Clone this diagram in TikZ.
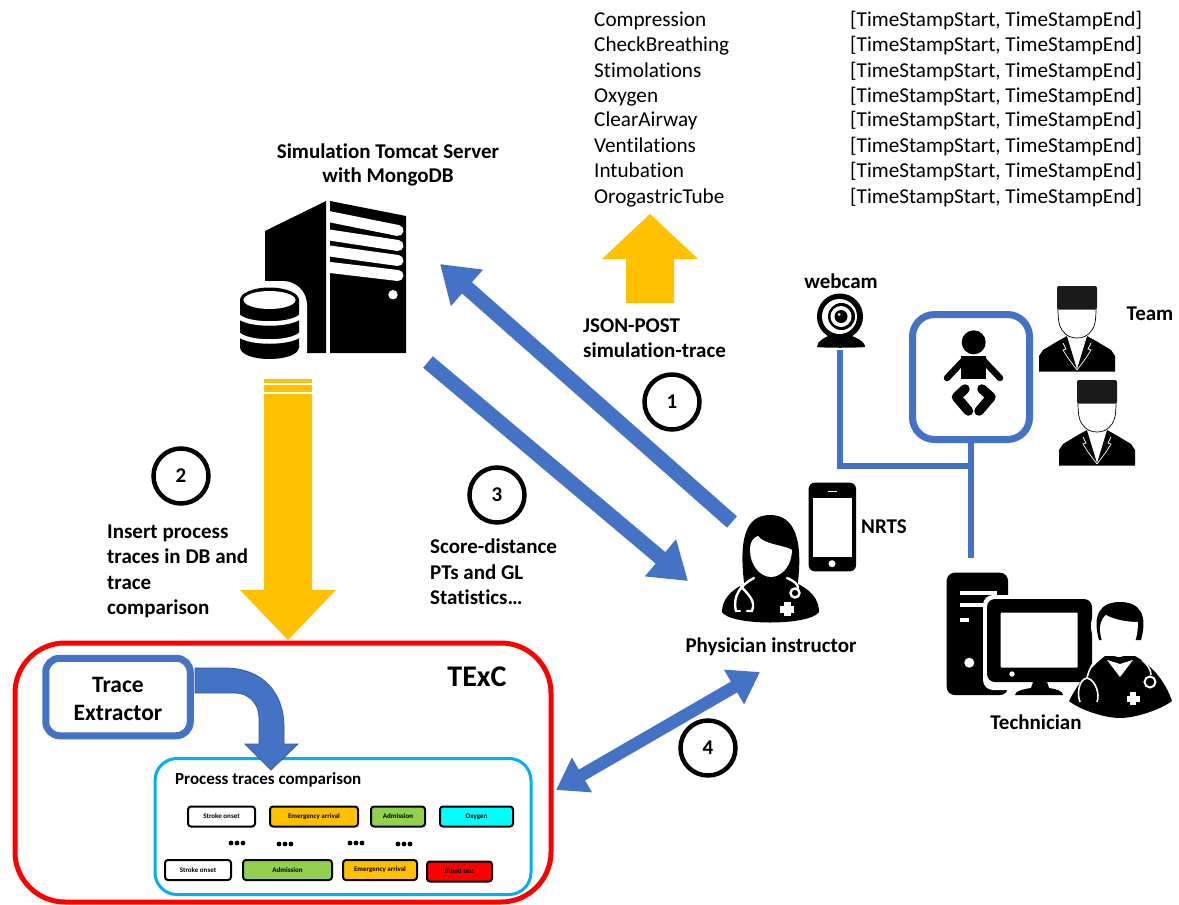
\documentclass[tikz,border=0pt]{standalone}
\usepackage{fontspec}
\setmainfont[RawFeature={-liga;-clig;-calt}]{Carlito}
\usetikzlibrary{arrows.meta}
\definecolor{pblue}{HTML}{4472C4}
\definecolor{pyellow}{HTML}{FFC000}
\definecolor{pcyan}{HTML}{00B0F0}
\definecolor{pgreen}{HTML}{92D050}
\definecolor{paqua}{HTML}{00FFFF}
\definecolor{pred}{HTML}{FF0000}
\definecolor{capblack}{HTML}{1A1A1A}
\tikzset{
  lbl/.style={font=\bfseries\fontsize{21}{25.4}\selectfont,align=left,inner sep=0pt},
  clbl/.style={font=\bfseries\fontsize{21}{24}\selectfont,align=center,inner sep=0pt},
  lst/.style={font=\fontsize{21.2}{24}\selectfont,anchor=base west,inner sep=0pt},
  num/.style={circle,draw=black,line width=4.5pt,fill=white,minimum size=55pt,inner sep=0pt,font=\bfseries\fontsize{21}{22}\selectfont},
  fatblue/.style={draw=pblue,line width=15pt},
  fathead/.style={-{Triangle[width=46pt,length=36pt]}},
  fatboth/.style={{Triangle[width=38pt,length=30pt]}-{Triangle[width=38pt,length=30pt]}},
  wire/.style={draw=pblue,line width=6pt},
  ev/.style={draw=black,line width=2pt,rounded corners=3pt,inner sep=0pt,minimum height=20pt,font=\bfseries\fontsize{7}{8}\selectfont},
  dotk/.style={fill=black,draw=none},
  whiteln/.style={draw=white,line cap=round},
  teamman/.pic={
    \fill[black] (-18,85.7) -- (-18,70) -- (-14,64) -- (1,55) -- (10,50) -- (30,50) -- (39,55) -- (54,64) -- (58,70) -- (58,85.7) -- cycle;
    \fill[white] (10,50) -- (20,83) -- (30,50) -- cycle;
    \draw[white,line width=.7pt] (6,57) -- (9,63) -- (6,64) -- (11,72) -- (20,84);
    \draw[white,line width=.7pt] (34,57) -- (31,63) -- (34,64) -- (29,72) -- (20,84);
    \filldraw[fill=white,draw=black,line width=.7pt] (1,22) .. controls (1,34) and (2,40) .. (5,44) .. controls (9,50) and (14,52) .. (20,52) .. controls (26,52) and (31,50) .. (35,44) .. controls (38,40) and (39,34) .. (39,22) -- cycle;
    \fill[capblack,rounded corners=2pt] (0,0) rectangle (40,23.5);
  }
}
\begin{document}
\begin{tikzpicture}[x=1pt,y=-1pt]
\useasboundingbox (0,0) rectangle (1179,905);
% action list
\foreach \n/\t/\y in {a/Compression/26.5,b/CheckBreathing/51.5,c/Stimolations/77.5,d/Oxygen/102.5,e/ClearAirway/126.5,f/Ventilations/152.5,g/Intubation/177.5,h/OrogastricTube/203.5}{
  \node[lst] (act\n) at (594,\y) {\t};
  \node[lst] (time\n) at (850,\y) {[TimeStampStart, TimeStampEnd]};
}
% labels
\node[clbl] (srv) at (388,165) {Simulation Tomcat Server\\with MongoDB};
\node[lbl,anchor=north west] (json) at (583,318.5) {JSON-POST\\simulation-trace};
\node[lbl,anchor=north west] (ins) at (107,524.5) {Insert process\\traces in DB and\\trace\\comparison};
\node[lbl,anchor=north west] (sco) at (430,539) {Score-distance\\PTs and GL\\Statistics…};
\node[clbl] (webl) at (841,281) {webcam};
\node[clbl] (teaml) at (1150,314) {Team};
\node[clbl] (nrts) at (884,527) {NRTS};
\node[clbl] (phys) at (771,647) {Physician instructor};
% server icon
\fill[black] (326,201) -- (265,231) -- (265,353) -- (326,353) -- cycle;
\fill[black] (330,201) -- (406,216) -- (406,353) -- (330,353) -- cycle;
\begin{scope}
\clip (330,195) rectangle (410,360);
\begin{scope}[line width=11pt]
\draw[whiteln] (326,216) -- (398,230.5);
\draw[whiteln] (326,234.5) -- (398,245.5);
\draw[whiteln] (326,250.5) -- (398,260.5);
\draw[whiteln] (326,267) -- (398,275.5);
\end{scope}
\end{scope}
\fill[white] (393,294.7) circle (4.7);
\fill[white,rounded corners=24pt] (232,281) rectangle (307,375);
\fill[black] (240,300) -- (240,347) .. controls (240,363) and (299,363) .. (299,347) -- (299,300) -- cycle;
\fill[black] (269.5,300) ellipse (29.5 and 12.5);
\fill[white] (269.5,300) ellipse (26 and 9);
\draw[white,line width=4.5pt] (238,316) .. controls (248,326) and (291,326) .. (301,316);
\draw[white,line width=4.5pt] (238,334) .. controls (248,344) and (291,344) .. (301,334);
% yellow arrows
\fill[pyellow] (626,303) -- (626,259) -- (602,259) -- (650,214) -- (698,259) -- (674,259) -- (674,303) -- cycle;
\fill[pyellow] (264,378.5) rectangle (312,383);
\fill[pyellow] (264,385) rectangle (312,392);
\fill[pyellow] (264,394) -- (312,394) -- (312,590) -- (336,590) -- (288,640) -- (240,590) -- (264,590) -- cycle;
% numbered circles
\node[num] (n1) at (672,402) {1};
\node[num] (n2) at (181,476) {2};
\node[num] (n3) at (497,495) {3};
\node[num] (n4) at (708,748) {4};
% blue connectors
\coordinate (p1) at (732,522);
\coordinate (s1) at (440,264);
\coordinate (s3) at (428,362);
\coordinate (p3) at (688,581);
\coordinate (t4) at (556,790);
\coordinate (p4) at (760,672);
\draw[fatblue,fathead] (p1) -- (s1);
\draw[fatblue,fathead] (s3) -- (p3);
\draw[fatblue,line width=12.5pt,fatboth] (t4) -- (p4);
% webcam
\fill[black] (817,347) .. controls (817,341) and (825,337) .. (831,335) -- (849,335) .. controls (855,337) and (865,341) .. (865,347) .. controls (855,348) and (825,348) .. (817,347) -- cycle;
\fill[black] (840,316.5) circle (23);
\fill[white] (839.5,316.5) circle (17.5);
\fill[black] (841.5,316.5) circle (13.5);
\fill[white] (841,316.5) circle (10.5);
\fill[black] (841,316.5) circle (6.5);
\fill[white] (839,314.5) circle (1.5);
% baby box and wires
\node[draw=pblue,line width=7pt,rounded corners=22pt,minimum width=117pt,minimum height=125pt,inner sep=0pt] (baby) at (971,377) {};
\coordinate (camfoot) at (840,350);
\coordinate (wirec) at (840,466);
\coordinate (wirej) at (971,466);
\coordinate (techtop) at (971,558);
\draw[wire] (camfoot) -- (wirec) -- (wirej);
\draw[wire] (baby.south) -- (techtop);
% baby figure
\fill[black] (973.7,342.3) circle (12);
\fill[black] (961,356) rectangle (986,379.3);
\draw[black,line width=6.5pt,line cap=round] (964,360) -- (947,378);
\draw[black,line width=6.5pt,line cap=round] (983,360) -- (1000,378);
\draw[black,line width=9.5pt,line cap=round,line join=round] (965,389) -- (956.5,397) -- (968.5,411);
\draw[black,line width=9.5pt,line cap=round,line join=round] (982,389) -- (991,397) -- (979,411);
% team
\pic at (1057,286) {teamman};
\pic at (1077,380) {teamman};
% phone
\fill[black,rounded corners=6pt] (808.7,482.7) rectangle (856,571.3);
\fill[white] (813.3,497.7) rectangle (851.7,557.3);
\draw[white,line width=1.5pt] (828,491.3) -- (837,491.3);
\fill[white] (832,563.7) circle (3.5);
% physician
\fill[black] (745,590) .. controls (738,540) and (745,515) .. (770,515) .. controls (795,515) and (804,540) .. (797,590) -- cycle;
\fill[black] (722,612) .. controls (722,600) and (730,590) .. (748,582) -- (757,577) -- (785,577) -- (794,582) .. controls (812,590) and (819,600) .. (819,612) .. controls (810,626) and (730,626) .. (722,612) -- cycle;
\fill[white] (750,550) .. controls (750,540) and (755,537) .. (758,536) .. controls (765,545) and (785,545) .. (792,550) .. controls (792,565) and (782,577) .. (771,577) .. controls (760,577) and (750,565) .. (750,550) -- cycle;
\draw[white,line width=2.4pt,line cap=round] (754,578) .. controls (742,584) and (732,595) .. (736,611);
\draw[white,line width=2.4pt,line cap=round] (741,586) .. controls (748,595) and (756,600) .. (752,611) -- (747,611);
\draw[white,line width=2.4pt,line cap=round] (736,611) -- (740,611);
\draw[white,line width=2.4pt,line cap=round] (787,578) .. controls (794,581) and (798,584) .. (798,588);
\draw[white,line width=2.4pt] (795,593) circle (4.5);
\fill[white] (783.5,602) rectangle (790.5,616);
\fill[white] (780,605.5) rectangle (794,612.5);
% technician
\fill[black,rounded corners=8pt] (946.7,572.7) rectangle (1008,695);
\fill[white] (960,591) rectangle (997,595);
\fill[white] (960,603) rectangle (985,607);
\fill[white] (960,618) rectangle (969,622);
\fill[white] (969.3,662.7) circle (5);
\fill[white,rounded corners=10pt] (983,595) rectangle (1096,690);
\fill[black,rounded corners=8pt] (987,599) rectangle (1092,682);
\fill[white,rounded corners=1pt] (1000.7,612.7) rectangle (1077.7,667.7);
\fill[white] (1012,674) circle (2.7);
\fill[black] (1033,682) -- (1047,682) -- (1049,688) .. controls (1056,689) and (1063,691) .. (1063,695) -- (1015,695) .. controls (1015,691) and (1024,689) .. (1031,688) -- cycle;
\fill[white] (1065,718) .. controls (1068,695) and (1085,675) .. (1105,658) -- (1135,650) .. controls (1160,665) and (1176,690) .. (1176,718) -- cycle;
\fill[white] (1120,626) circle (29);
\fill[black] (1069,701) .. controls (1080,680) and (1090,668) .. (1105,656) -- (1135,656) .. controls (1150,664) and (1165,680) .. (1172,701) .. controls (1160,710) and (1135,718) .. (1120,718) .. controls (1105,718) and (1080,710) .. (1069,701) -- cycle;
\fill[black] (1099,640) .. controls (1092,615) and (1100,602) .. (1120,602) .. controls (1140,602) and (1148,615) .. (1141,640) -- cycle;
\fill[white] (1100,629) .. controls (1100,622) and (1103,617) .. (1106,615) .. controls (1115,620) and (1128,622) .. (1138,622) .. controls (1138,642) and (1130,657) .. (1119,657) .. controls (1108,657) and (1100,642) .. (1100,629) -- cycle;
\fill[white] (1107,660) -- (1120,677) -- (1133,660) -- (1120,664) -- cycle;
\draw[white,line width=1.6pt] (1094,662) .. controls (1090,668) and (1088,673) .. (1087,678) .. controls (1078,680) and (1077,695) .. (1080,702);
\draw[white,line width=1.6pt] (1087,678) .. controls (1096,680) and (1100,695) .. (1097,702);
\draw[white,line width=1.6pt] (1142,660) .. controls (1148,665) and (1151,670) .. (1151,675);
\draw[white,line width=2pt] (1150,682) circle (5.5);
\fill[white] (1130,692) rectangle (1136,705);
\fill[white] (1126.5,695.5) rectangle (1139.5,701.5);
\node[clbl] (tech) at (1036,722) {Technician};
% TExC
\node[draw=pred,line width=5pt,rounded corners=50pt,minimum width=536pt,minimum height=259pt,inner sep=0pt] (texc) at (283,772.5) {};
\node[font=\bfseries\fontsize{30}{34}\selectfont,inner sep=0pt] (texcl) at (477,677) {TExC};
\node[draw=pcyan,line width=3pt,rounded corners=22pt,minimum width=376pt,minimum height=136pt,inner sep=0pt] (cmp) at (343,826.5) {};
\node[draw=pblue,line width=7pt,rounded corners=14pt,minimum width=144.5pt,minimum height=77.5pt,inner sep=0pt,fill=white] (tex) at (118,697) {};
\node[inner sep=0pt,align=center,font=\bfseries\fontsize{23.5}{28}\selectfont] (texl) at (118,698.5) {Trace\\Extractor};
\node[font=\bfseries\fontsize{17}{20}\selectfont,anchor=west,inner sep=0pt] (cmpl) at (175,780) {Process traces comparison};
% curved arrow
\filldraw[fill=pblue,draw=pblue!75!black,line width=.7pt] (195,668) -- (225,668) .. controls (262,668) and (284,692) .. (284,727) -- (284,744) -- (298,744) -- (271,770) -- (245,744) -- (259,744) -- (259,718) .. controls (259,703) and (248,693) .. (235,693) -- (195,693) -- cycle;
% trace events
\node[ev,minimum width=67pt] (r1a) at (221.5,816.5) {Stroke onset};
\node[ev,fill=pyellow,minimum width=88pt] (r1b) at (314,816.5) {Emergency arrival};
\node[ev,fill=pgreen,minimum width=54pt] (r1c) at (398,816.5) {Admission};
\node[ev,fill=paqua,minimum width=73pt] (r1d) at (476.5,816.5) {Oxygen};
\node[ev,minimum width=66pt] (r2a) at (198,870) {Stroke onset};
\node[ev,fill=pgreen,minimum width=89pt] (r2b) at (287.5,870) {Admission};
\node[ev,fill=pyellow,minimum width=74pt] (r2c) at (380,870) {Emergency arrival};
\node[ev,fill=pred,minimum width=65pt] (r2d) at (459.5,871.5) {Blood test};
\foreach \x/\y in {237/843,285/844,356/843,404/844}{
  \foreach \d in {-6,0,6}{\fill[dotk] (\x+\d,\y) circle (2.4);}
}
\end{tikzpicture}
\end{document}
